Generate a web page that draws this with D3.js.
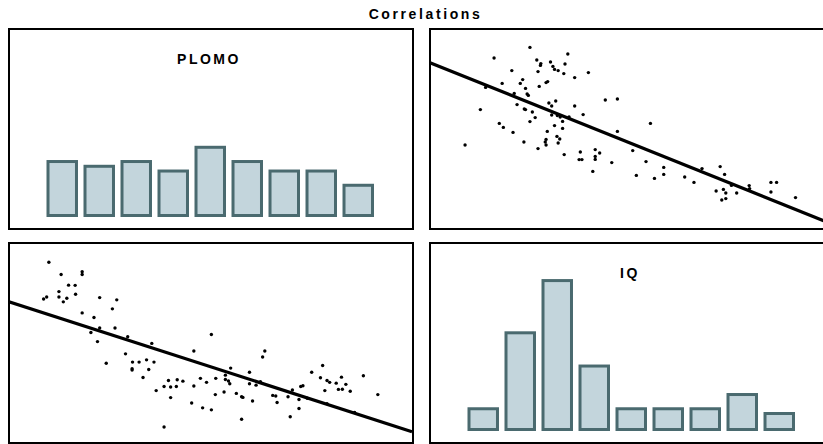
<!DOCTYPE html>
<html>
<head>
<meta charset="utf-8">
<script src="https://cdn.jsdelivr.net/npm/d3@7"></script>
<style>
  body { margin: 0; background: #fff; }
  text { font-family: "Liberation Sans", Arial, sans-serif; font-weight: bold; }
</style>
</head>
<body>
<script>
var iq = [24.8, 15.9, 34.2, 26.5, 27.5, 27.4, 29.9, 30.5, 33.5, 30.9,
          31.8, 33.2, 26.8, 20.3, 39.3, 35.9, 29.2, 28.8, 27.1, 23.0,
          22.4, 17.9, 23.7, 20.9, 24.1, 24.4, 13.8, 31.2, 29.5, 30.2,
          21.6, 23.4, 23.7, 25.4, 12.5, 35.9, 43.5, 46.5, 30.2, 31.6,
          32.3, 34.5, 38.0, 26.1, 24.8, 32.9, 30.9, 32.9, 17.2, 18.2,
          20.6, 29.1, 31.5, 32.2, 28.8, 28.6, 28.8, 31.8, 23.3, 8.7,
          26.8, 33.3, 46.5, 54.7, 37.3, 37.0, 37.7, 41.0, 41.0, 41.0,
          42.1, 40.4, 45.1, 50.3, 53.6, 51.2, 55.7, 58.0, 58.0, 63.2,
          65.5, 67.5, 72.0, 73.1, 71.0, 72.8, 73.4, 72.4, 73.4, 76.1,
          74.8, 79.2, 79.3, 84.6, 86.0, 84.6, 90.7];
var plomo = [90.8, 85.5, 87.5, 84.5, 82.7, 81.8, 83.5, 81.3, 82.5, 79.8,
             79.2, 77.7, 78.7, 79.2, 78.2, 75.7, 73.7, 73.2, 71.3, 74.7,
             72.8, 72.8, 70.3, 67.8, 67.5, 66.8, 70.8, 64.0, 63.0, 61.5,
             62.2, 60.0, 59.7, 58.5, 59.7, 61.5, 64.5, 65.0, 57.0, 56.7,
             56.0, 56.0, 57.2, 55.7, 53.7, 53.8, 51.7, 50.3, 52.8, 50.8,
             48.3, 48.8, 46.3, 45.0, 44.8, 43.5, 42.0, 43.0, 43.5, 42.0,
             40.2, 37.2, 48.8, 52.8, 38.5, 34.7, 34.7, 39.7, 36.3, 34.8,
             38.0, 28.8, 33.2, 39.2, 33.7, 26.8, 25.3, 30.8, 27.3, 26.0,
             23.3, 30.2, 31.2, 27.3, 19.0, 19.8, 18.0, 14.5, 15.2, 18.0,
             21.8, 21.7, 20.2, 23.3, 23.3, 18.5, 15.7];

// histogram counts per bin
var plomoCounts = [12, 11, 12, 10, 15, 12, 10, 10, 7];
var iqCounts = [5, 21, 32, 14, 5, 5, 5, 8, 4];

var chartTitle = "Correlations";
var varNames = ["PLOMO", "IQ"];

var W = 823, H = 444;
var pw = 404, ph = 200;
var panelPos = [[9, 29], [430, 29], [9, 243], [430, 243]];

var svg = d3.select("body").append("svg")
    .attr("width", W)
    .attr("height", H);

svg.append("text")
    .attr("x", 425.5)
    .attr("y", 19)
    .attr("text-anchor", "middle")
    .style("font-size", "14px")
    .style("letter-spacing", "2.6px")
    .text(chartTitle);

var pts = iq.map(function(d, i) { return { iq: d, plomo: plomo[i] }; });

function regress(xs, ys) {
  var mx = d3.mean(xs), my = d3.mean(ys);
  var sxy = d3.sum(xs, function(d, i) { return (d - mx) * (ys[i] - my); });
  var sxx = d3.sum(xs, function(d) { return (d - mx) * (d - mx); });
  var b = sxy / sxx;
  return { b: b, a: my - b * mx };
}

function panel(i) {
  var g = svg.append("g")
      .attr("transform", "translate(" + panelPos[i][0] + "," + panelPos[i][1] + ")");
  g.append("clipPath").attr("id", "clip" + i)
    .append("rect").attr("width", pw).attr("height", ph);
  return g;
}

function histogram(g, counts, name) {
  var x = d3.scaleBand().domain(d3.range(counts.length))
      .range([37.5, 365]).paddingInner(0.149).paddingOuter(0);
  var y = d3.scaleLinear().domain([0, 39.6]).range([188, 0]);

  g.append("text")
      .attr("x", pw / 2 - 2)
      .attr("y", 34.5)
      .attr("text-anchor", "middle")
      .style("font-size", "14px")
      .style("letter-spacing", "2.5px")
      .text(name);

  g.selectAll("rect.bar")
      .data(counts)
    .enter().append("rect")
      .attr("class", "bar")
      .attr("x", function(d, i) { return x(i) + 1.5; })
      .attr("width", x.bandwidth() - 3)
      .attr("y", function(d) { return y(d) + 1.5; })
      .attr("height", function(d) { return y(0) - y(d) - 3; })
      .style("fill", "#c3d5dc")
      .style("stroke", "#4a6a6f")
      .style("stroke-width", 3);
}

function scatter(g, id, xKey, yKey, xDom, yDom) {
  var x = d3.scaleLinear().domain(xDom).range([0, pw - 1]);
  var y = d3.scaleLinear().domain(yDom).range([ph, 0]);
  var fit = regress(pts.map(function(d) { return d[xKey]; }),
                    pts.map(function(d) { return d[yKey]; }));

  var c = g.append("g").attr("clip-path", "url(#clip" + id + ")");
  c.selectAll("circle")
      .data(pts)
    .enter().append("circle")
      .attr("cx", function(d) { return x(d[xKey]); })
      .attr("cy", function(d) { return y(d[yKey]); })
      .attr("r", 1.7)
      .style("fill", "#000");

  c.append("line")
      .attr("x1", x(xDom[0]))
      .attr("y1", y(fit.a + fit.b * xDom[0]))
      .attr("x2", x(xDom[1]))
      .attr("y2", y(fit.a + fit.b * xDom[1]))
      .style("stroke", "#000")
      .style("stroke-width", 3.2);
}

var g0 = panel(0), g1 = panel(1), g2 = panel(2), g3 = panel(3);
histogram(g0, plomoCounts, varNames[0]);
scatter(g1, 1, "iq", "plomo", [0, 100], [0, 100]);
scatter(g2, 2, "plomo", "iq", [6.6, 98.6], [0.7, 100.3]);
histogram(g3, iqCounts, varNames[1]);

[g0, g1, g2, g3].forEach(function(g) {
  g.append("rect")
      .attr("width", pw)
      .attr("height", ph)
      .style("fill", "none")
      .style("stroke", "#000")
      .style("stroke-width", 2);
});
</script>
</body>
</html>
